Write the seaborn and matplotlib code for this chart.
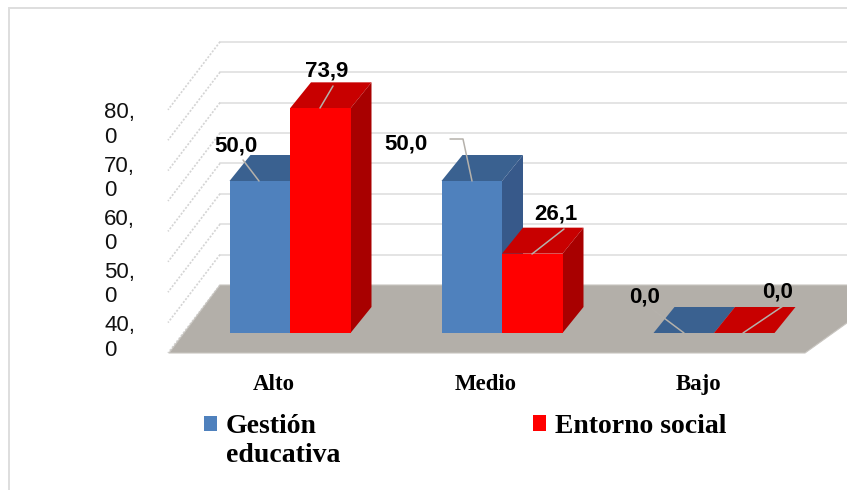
import numpy as np
import pandas as pd
import matplotlib
matplotlib.use("Agg")
import matplotlib.pyplot as plt
from matplotlib.patches import Polygon, Rectangle
from matplotlib.legend_handler import HandlerPatch
import seaborn as sns

categories = ["Alto", "Medio", "Bajo"]
series_names = ["Gestión\neducativa", "Entorno social"]
gestion = [50.0, 50.0, 0.0]
entorno = [73.9, 26.1, 0.0]
value_labels = [["50,0", "50,0", "0,0"], ["73,9", "26,1", "0,0"]]
grid_values = [0, 10, 20, 30, 40, 50, 60, 70, 80]
axis_ticks = [40, 50, 60, 70, 80]
axis_labels = ["40,\n0", "50,\n0", "60,\n0", "70,\n0", "80,\n0"]

W, H = 847, 490
PX_X = 212.0      # pixels per category
PX_Y = 3.04       # pixels per value unit
X0, Y0 = 290, 333 # pixel of first category centre / value 0
L, R, T, B = 150, 847, 0, 368

front = ["#4F81BD", "#FF0000"]
top = ["#3A6190", "#C80000"]
side = ["#37598A", "#A80000"]
DX, DY = 21 / PX_X, 26 / PX_Y

df = pd.DataFrame({
    "cat": categories * 2,
    "serie": [series_names[0]] * 3 + [series_names[1]] * 3,
    "valor": gestion + entorno,
})

sns.set_style("white")
plt.rcParams["font.family"] = ["Liberation Sans", "DejaVu Sans"]
fig = plt.figure(figsize=(W / 100, H / 100), dpi=100)
ax = fig.add_axes([L / W, 1 - B / H, (R - L) / W, (B - T) / H])
sns.barplot(data=df, x="cat", y="valor", hue="serie", order=categories,
            hue_order=series_names, palette=front, width=121 / PX_X, gap=0,
            linewidth=0, saturation=1, ax=ax, errorbar=None, legend=True)
ax.set_xlim((L - X0) / PX_X, (R - X0) / PX_X)
ax.set_ylim((Y0 - B) / PX_Y, (Y0 - T) / PX_Y)
xl, xr = ax.get_xlim()
to_x = lambda px: (px - X0) / PX_X
to_y = lambda py: (Y0 - py) / PX_Y

# floor
fl = to_y(353); bk = to_y(285)
ax.add_patch(Polygon([(to_x(169), fl), (to_x(220), bk), (to_x(900), bk), (to_x(805), fl)],
                     closed=True, fc="#B3AFA9", ec="#C8C5C0", lw=0.8, zorder=0.5))
# back wall grid and side wall
for v in grid_values:
    yb = bk + v
    if v > 0:
        ax.plot([to_x(220), xr], [yb, yb], color="#E4E4E4", lw=1.4, zorder=0.3)
    ax.plot([to_x(220), to_x(168)], [yb, yb - 68 / PX_Y], color="#D4D4D4", lw=1.2,
            ls=(0, (1.2, 1.0)), zorder=0.3)

# 3D faces built from the bars themselves
for s, cont in enumerate(ax.containers):
    base = 2 + s * 2
    for bar in cont:
        x, w, h = bar.get_x(), bar.get_width(), bar.get_height()
        bar.set_zorder(base + 1)
        ax.add_patch(Polygon([(x, h), (x + DX, h + DY), (x + w + DX, h + DY), (x + w, h)],
                             closed=True, fc=top[s], ec="none", zorder=base))
        if h > 0:
            ax.add_patch(Polygon([(x + w, 0), (x + w + DX, DY), (x + w + DX, h + DY), (x + w, h)],
                                 closed=True, fc=side[s], ec="none", zorder=base))

# data labels with leader lines (series, category, label centre, leader path in pixels)
leaders = [
    (0, 0, (236, 146), [(259, 181), (243, 160)]),
    (0, 1, (406, 144), [(472, 181), (463, 139), (450, 139)]),
    (0, 2, (645, 297), [(684, 333), (652, 309)]),
    (1, 0, (327, 71), [(320, 108), (333, 86)]),
    (1, 1, (556, 214), [(532, 254), (564, 229)]),
    (1, 2, (778, 292), [(743, 333), (783, 306)]),
]
for s, c, (tx, ty), path in leaders:
    ax.plot([to_x(p[0]) for p in path], [to_y(p[1]) for p in path],
            color="#B5B1AB", lw=1.1, zorder=9)
    ax.text(to_x(tx), to_y(ty), value_labels[s][c], ha="center", va="center",
            fontsize=16, fontweight="bold", color="black", zorder=10)

# category labels
ax.set_xlabel(""); ax.set_ylabel("")
ax.set_xticks(np.arange(3) - 16 / PX_X)
ax.set_xticklabels(categories, family=["Liberation Serif"], fontweight="bold", fontsize=16.5,
                   color="black")
ax.tick_params(axis="x", length=0, pad=4)
ax.set_yticks([])
sns.despine(ax=ax, left=True, bottom=True)

# value axis labels, on their own scale
ax2 = ax.twinx()
ax2.set_ylim(40 + (334 - B) / 5.325, 40 + (334 - T) / 5.325)
ax2.set_yticks(axis_ticks)
ax2.set_yticklabels(axis_labels, fontsize=16, ha="left", color="#111111")
ax2.yaxis.tick_left()
ax2.tick_params(axis="y", length=0, pad=(L - 104) * 0.72)
for sp in ax2.spines.values():
    sp.set_visible(False)
ax2.patch.set_visible(False)

# legend: one entry per series, the square beside the first text line
handles, labels = ax.get_legend_handles_labels()
ax.legend_.remove()


def raised(legend, orig_handle, xdescent, ydescent, width, height, fontsize):
    return Rectangle((-xdescent, -ydescent + 12.5), width, height)


legend_font = {"family": "Liberation Serif", "weight": "bold", "size": 20}
common = dict(loc="upper left", frameon=False, borderpad=0, borderaxespad=0,
              handlelength=0.47, handleheight=0.47, handletextpad=0.32, labelspacing=0,
              prop=legend_font, labelcolor="black")
fig.legend(handles[:1], labels[:1], bbox_to_anchor=(204 / W, 1 - 414 / H),
           handler_map={type(handles[0]): HandlerPatch(patch_func=raised)}, **common)
fig.legend(handles[1:], labels[1:], bbox_to_anchor=(533 / W, 1 - 414 / H), **common)

# chart frame
fig.add_artist(Rectangle((9 / W, -0.1), 1.2, 1.1 - 8 / H, transform=fig.transFigure, fill=False,
                         ec="#DEDEDE", lw=1.4))
fig.savefig("out.png", dpi=100)
